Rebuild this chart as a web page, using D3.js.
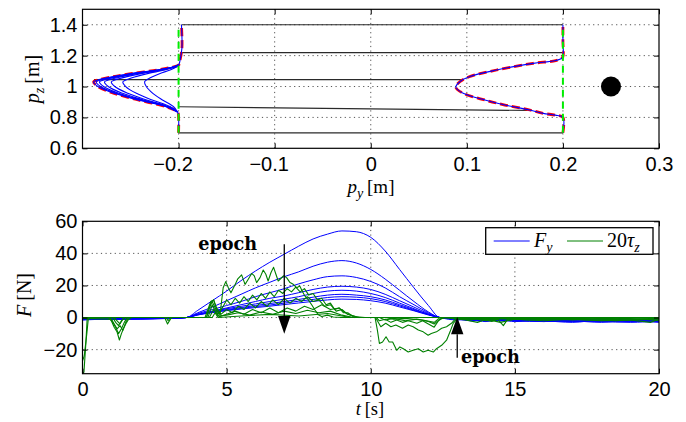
<!DOCTYPE html>
<html><head><meta charset="utf-8">
<script src="https://cdn.jsdelivr.net/npm/d3@7"></script>
<style>body{margin:0;background:#fff}svg{display:block}</style>
</head><body>
<svg id="c" width="686" height="422"></svg>
<script>
// ---------- tick values ----------
const pyTicks = [-0.2, -0.1, 0, 0.1, 0.2, 0.3];
const pzTicks = [0.6, 0.8, 1, 1.2, 1.4];
const tTicks = [0, 5, 10, 15, 20];
const fTicks = [-20, 0, 20, 40, 60];

// ---------- top plot data (py, pz) ----------
const bulgeZ = [0.835, 0.869, 0.913, 0.956, 1.0, 1.03, 1.042, 1.064, 1.085, 1.107, 1.128, 1.139];
const leftOuterPy = [-0.201, -0.213, -0.242, -0.267, -0.284, -0.2885, -0.284, -0.268, -0.248, -0.222, -0.205, -0.200];
const leftInnerPy = [
  [-0.201, -0.2126, -0.2407, -0.2649, -0.2813, -0.2857, -0.2813, -0.2658, -0.2465, -0.2213, -0.2048, -0.2],
  [-0.201, -0.2121, -0.239, -0.2623, -0.2781, -0.2823, -0.2781, -0.2632, -0.2446, -0.2205, -0.2047, -0.2],
  [-0.201, -0.2113, -0.2366, -0.2584, -0.2732, -0.2771, -0.2732, -0.2592, -0.2418, -0.2192, -0.2044, -0.2],
  [-0.201, -0.2103, -0.2332, -0.2529, -0.2664, -0.270, -0.2664, -0.2537, -0.2379, -0.2174, -0.204, -0.2],
  [-0.201, -0.2085, -0.2275, -0.2439, -0.255, -0.258, -0.255, -0.2445, -0.2314, -0.2144, -0.2033, -0.2],
  [-0.201, -0.2052, -0.2168, -0.2268, -0.2336, -0.2354, -0.2336, -0.2272, -0.2192, -0.2088, -0.202, -0.2]
];
const leftLowerStem = [[-0.2, 0.70], [-0.2, 0.80]];
const leftUpperStem = [[-0.1985, 1.17], [-0.1965, 1.25], [-0.1965, 1.32], [-0.197, 1.40]];
const rightPz = [0.70, 0.80, 0.815, 0.826, 0.848, 0.88, 0.9125, 0.956, 0.995, 1.031, 1.063, 1.107, 1.150, 1.165, 1.18, 1.193, 1.30, 1.40];
const rightPy = [0.2, 0.2, 0.192, 0.1795, 0.1656, 0.1396, 0.1188, 0.0962, 0.0885, 0.0927, 0.1024, 0.131, 0.169, 0.19, 0.198, 0.2, 0.2, 0.2];
const blackLines = [
  [[-0.197, 1.40], [0.2, 1.40]],
  [[-0.198, 1.219], [0.2, 1.219]],
  [[-0.288, 1.045], [0.095, 1.045]],
  [[-0.2, 0.869], [0.163, 0.845]],
  [[-0.2, 0.70], [0.2, 0.70]]
];
const wallLines = [[[-0.2, 0.7], [-0.2, 1.4]], [[0.2, 0.7], [0.2, 1.4]]];
const target = [0.25, 1.0];

// ---------- bottom plot data ----------
const blueT = [0,1,2,3,3.6,4,4.5,5,5.5,6,6.5,7,7.5,8,8.5,9,9.5,10,10.5,11,11.5,12,12.4,13,13.5,14,14.5,15,16,17,18,19,20];
const fy1 = [-1,-0.8,-0.6,-0.4,0, 4.5,10.5,16.5,23,29,34.5,39.5,44.5,49,52,54,53.5,50,41.5,30,18.5,7.5, 0, -0.5,-1,-1.5,-1,-2,-2.5,-2,-2.5,-2,-2];
const fy2 = [-1.2,-0.9,-0.7,-0.5,0, 3,6.5,10.5,14.5,18.5,22,25.5,28.5,32,34.5,35.5,34,30,24,17,10,3.5, 0, -0.8,-1.5,-1,-2,-1.5,-2,-2.5,-1.5,-2,-2.5];
const fy3 = [-0.8,-1,-0.5,-0.6,0, 2.5,5,7.5,10,13,15.5,18,21,23.5,25.5,26,25,22.5,18.5,13,8,3, 0, -1,-0.5,-2,-1.5,-1,-1.5,-2,-3,-1.5,-2];
const fy4 = [-1.5,-1,-1,-0.5,0, 2,4,6,8,10,12,13.5,15.5,17.5,19,19.5,19,17.5,14.5,10.5,6.5,2.5, 0, -0.5,-2,-1,-1.5,-2.5,-1.5,-1,-2,-2.5,-1.5];
const fy5 = [-0.6,-0.7,-0.9,-0.3,0, 2,3.8,5.5,7,8.5,10,11.5,13,15,16.5,17,16.5,15,12.5,9,5.5,2, 0, -1.5,-1,-0.5,-2,-1.5,-2.5,-1.5,-1,-2,-3];
const fy6 = [-1,-1.2,-0.8,-0.6,0, 1.8,3.5,5,6.2,7.5,8.7,10,11.3,12.7,14,14.5,14,13,11,8,5,2, 0, -0.5,-1.5,-2.5,-1,-2,-1,-2.5,-2,-1,-1.5];
const fy7 = [-1.4,-0.6,-0.7,-0.4,0, 1.7,3.3,4.6,5.7,6.8,7.8,9,10.2,11.3,12.5,13,12.7,11.8,10,7.3,4.5,1.8, 0, -1,-2,-1.5,-0.5,-1.5,-2,-3,-1.5,-2,-1];
const fy8 = [-0.9,-0.9,-0.6,-0.5,0, 1.6,3.1,4.3,5.3,6.2,7.1,8.1,9.1,10.1,11,11.5,11.3,10.5,9,6.6,4.2,1.6, 0, -0.8,-1.2,-2,-1.5,-1,-2,-1.5,-2.5,-3,-2];

const tau1 = [[0,-35],[0.05,-34],[0.12,-15],[0.16,-1],[0.3,0],[0.9,0],[1.0,-2],[1.1,-6],[1.2,-9],[1.28,-14],[1.35,-10],[1.42,-7],[1.5,-4],[1.6,-1],[1.7,0],[2.85,0],[2.95,-4],[3.05,-1],[3.1,0],[4.25,0],[4.35,5],[4.45,10],[4.55,11],[4.65,5],[4.77,1.7],[4.88,18.6],[4.97,22.4],[5.06,18.6],[5.15,15.4],[5.27,19.6],[5.38,23.9],[5.52,26.6],[5.64,20.7],[5.75,23.9],[5.87,27.5],[5.96,26],[6.04,21.8],[6.16,24.9],[6.27,29.6],[6.36,27],[6.44,22.8],[6.54,28.1],[6.63,31.3],[6.71,27],[6.79,22.8],[6.89,24.5],[6.97,26],[7.08,24.9],[7.2,21.8],[7.31,20.7],[7.43,18.6],[7.54,19.6],[7.62,16.5],[7.72,13.3],[7.83,11.2],[7.95,8],[8.06,4.9],[8.18,1.7],[8.3,0.6],[8.5,1.5],[8.7,0.3],[9,0],[10.15,0],[10.23,-7.8],[10.3,-16.2],[10.41,-15.2],[10.53,-12],[10.64,-15.2],[10.76,-15.2],[10.9,-20.4],[11.01,-18.3],[11.13,-19.4],[11.3,-21.5],[11.47,-20.4],[11.65,-19.4],[11.82,-21.5],[11.99,-20.4],[12.17,-21.5],[12.28,-19.4],[12.46,-17.3],[12.63,-14.1],[12.75,-8.9],[12.86,-3.6],[13.03,0],[13.3,-1],[13.6,-0.5],[14,-2],[14.4,-1],[14.6,-5],[14.75,-1],[15,0],[16,-1],[17,-0.5],[18,-1],[19,-1.5],[19.7,-3],[20,-1]];
const tau2 = [[0,-27],[0.06,-24],[0.15,-10],[0.2,-1],[0.3,0],[0.95,0],[1.05,-3],[1.15,-6],[1.25,-10],[1.35,-7],[1.45,-3],[1.55,0],[2.9,0],[2.97,-2],[3.05,0],[4.3,0],[4.4,6],[4.5,10],[4.6,6],[4.7,2],[4.85,6],[5.0,11],[5.15,8],[5.3,12],[5.45,9],[5.6,13],[5.75,10],[5.9,14],[6.05,11],[6.2,15],[6.35,12],[6.5,16],[6.65,13],[6.8,17],[6.95,15],[7.1,18],[7.25,16],[7.4,19],[7.55,16],[7.7,18],[7.85,14],[8.0,15],[8.15,11],[8.3,12],[8.45,8],[8.6,9],[8.75,5],[8.9,6],[9.05,3],[9.2,3],[9.4,0.5],[9.6,0],[10.15,0],[10.2,-1],[10.35,-5.7],[10.52,-3.6],[10.7,-5.7],[10.87,-4.7],[11.1,-6.7],[11.3,-4.7],[11.47,-5.7],[11.65,-7.8],[11.82,-8.9],[11.99,-11],[12.1,-10],[12.28,-8.9],[12.46,-6.7],[12.63,-5.7],[12.8,-3.6],[12.98,0],[13.4,-1.5],[13.8,-0.5],[14.2,-2.5],[14.5,-0.5],[15.5,-1.5],[16.5,-0.5],[17.5,-1.5],[18.5,-2],[19.5,-1],[20,-2]];
const tau3 = [[0,-0.5],[1.0,-1],[1.1,-4],[1.2,-7],[1.3,-5],[1.4,-8],[1.5,-3],[1.6,0],[4.3,0],[4.45,9],[4.55,11],[4.65,6],[4.8,2],[5.0,5],[5.2,3],[5.4,7],[5.6,5],[5.8,9],[6.0,6],[6.2,10],[6.4,7],[6.6,11],[6.8,8],[7.0,12],[7.2,9],[7.4,12],[7.6,10],[7.8,13],[8.0,10],[8.2,11],[8.4,7],[8.6,8],[8.8,4],[9.0,5],[9.2,2],[9.4,1],[9.6,0],[10.2,0],[10.3,-2],[10.5,-1],[10.7,-3],[10.9,-1.5],[11.1,-3],[11.3,-2],[11.6,-3.5],[11.8,-2],[12.0,-4],[12.2,-6],[12.35,-2],[12.5,0],[13.3,-1.5],[13.7,-3],[14.0,-1],[14.5,-3],[15,-1],[16,-2],[17,-1],[18,-2],[19,-1.5],[20,-1]];
const tau4 = [[0,0],[1.05,0],[1.15,-3],[1.25,-5],[1.35,-2],[1.45,0],[4.35,0],[4.5,8],[4.6,4],[4.75,0.5],[5.0,2],[5.3,4],[5.6,2],[5.9,5],[6.2,3],[6.5,6],[6.8,3],[7.1,6],[7.4,4],[7.7,7],[8.0,5],[8.3,8],[8.6,5],[8.9,6],[9.2,2],[9.5,0.5],[9.8,0],[10.3,0],[10.5,-1.5],[10.8,-0.5],[11.2,-2],[11.6,-1],[12.0,-2.5],[12.2,-4],[12.4,-1],[12.6,0],[13.5,-1],[14,-0.5],[15,-1],[16,-0.5],[17,-1.5],[18,-0.5],[19,-1],[20,-0.5]];
const tau5 = [[0,0],[1.1,0],[1.2,-2],[1.3,-4],[1.4,-1],[1.5,0],[4.4,0],[4.55,5],[4.7,1],[5.0,1.5],[5.4,3],[5.8,1.5],[6.2,3.5],[6.6,2],[7.0,4],[7.4,2.5],[7.8,4.5],[8.2,3],[8.6,4],[9.0,1.5],[9.4,0],[10.5,0],[10.8,-1],[11.2,-0.5],[11.8,-1.5],[12.2,-3],[12.4,0],[13,0],[14,-1],[15,-0.5],[16,-1],[17,-0.5],[18,-1],[19,-0.5],[20,0]];
const tau6 = [[0,0],[4.5,0],[4.6,3],[4.7,0],[5.5,1],[6.5,2],[7.5,1],[8.5,2.5],[9.3,0],[20,0]];

const seriesLabels = ["F_y", "20τ_z"];
// annotation anchors in data coordinates (t, F)
const arrowDown = {t: 7.0, tail: 45.7, base: 1.0, tip: -10.1};
const arrowUp = {t: 13.0, tail: -25.0, base: -10.4, tip: 0.3};
const epochLabels = [{t: 4.015, f: 41.9}, {t: 13.13, f: -28.1}];

// ---------- drawing ----------
const svg = d3.select("#c");
svg.append("rect").attr("width", 686).attr("height", 422).attr("fill", "#fff");

const xT = d3.scaleLinear().domain([-0.3, 0.3]).range([82.5, 659]);
const yT = d3.scaleLinear().domain([0.6, 1.5]).range([148.3, 9.3]);
const xB = d3.scaleLinear().domain([0, 20]).range([82.5, 659]);
const yB = d3.scaleLinear().domain([-35, 60]).range([373.7, 221.3]);

const fmt = d3.format("~g");
const TICKFONT = 20;

function frame(x, y, xt, yt) {
  const g = svg.append("g");
  const [x0, x1] = x.range(), [y0, y1] = y.range();
  const dot = {stroke: "#555", w: 1, dash: "1.2,3.4"};
  xt.forEach(v => { const px = x(v); if (px > x0 + 1 && px < x1 - 1)
    g.append("line").attr("x1", px).attr("x2", px).attr("y1", y0).attr("y2", y1)
     .attr("stroke", dot.stroke).attr("stroke-width", dot.w).attr("stroke-dasharray", dot.dash); });
  yt.forEach(v => { const py = y(v); if (py < y0 - 1 && py > y1 + 1)
    g.append("line").attr("x1", x0).attr("x2", x1).attr("y1", py).attr("y2", py)
     .attr("stroke", dot.stroke).attr("stroke-width", dot.w).attr("stroke-dasharray", dot.dash); });
  return g;
}
function axes(x, y, xt, yt, pad) {
  const [x0, x1] = x.range(), [y0, y1] = y.range();
  const mk = (gen, tr) => {
    const a = svg.append("g").attr("transform", tr).call(gen)
      .attr("font-family", "'Liberation Sans', Arial, sans-serif").attr("font-size", TICKFONT).attr("color", "#000");
    a.select(".domain").remove();
    return a;
  };
  const bx = mk(d3.axisBottom(x).tickValues(xt).tickSizeInner(-5).tickSizeOuter(0).tickPadding(pad).tickFormat(fmt), `translate(0,${y0})`);
  // negative labels: digits centred on the tick, minus hangs left (as in the reference)
  bx.selectAll(".tick text").attr("dx", d => d < 0 ? -6 : 0);
  mk(d3.axisTop(x).tickValues(xt).tickSizeInner(-5).tickSizeOuter(0).tickFormat(""), `translate(0,${y1})`);
  mk(d3.axisLeft(y).tickValues(yt).tickSizeInner(-5).tickSizeOuter(0).tickPadding(5).tickFormat(fmt), `translate(${x0},0)`);
  mk(d3.axisRight(y).tickValues(yt).tickSizeInner(-5).tickSizeOuter(0).tickFormat(""), `translate(${x1},0)`);
  svg.append("rect").attr("x", x0).attr("y", y1).attr("width", x1 - x0).attr("height", y0 - y1)
    .attr("fill", "none").attr("stroke", "#000").attr("stroke-width", 1.2);
}

// ===== TOP PLOT =====
frame(xT, yT, pyTicks, pzTicks);
const gT = svg.append("g");
const lineT = d3.line().x(d => xT(d[0])).y(d => yT(d[1]));
const smoothT = d3.line().x(d => xT(d[0])).y(d => yT(d[1])).curve(d3.curveCatmullRom.alpha(0.5));

blackLines.forEach(l => gT.append("path").attr("d", lineT(l)).attr("fill", "none")
  .attr("stroke", "#2a2a2a").attr("stroke-width", 1.2));

const bulge = arr => bulgeZ.map((z, i) => [arr[i], z]);
const leftFull = leftLowerStem.concat(bulge(leftOuterPy), leftUpperStem);
const rightFull = rightPz.map((z, i) => [rightPy[i], z]);

[leftFull, rightFull].forEach(p => gT.append("path").attr("d", smoothT(p)).attr("fill", "none")
  .attr("stroke", "#ff0000").attr("stroke-width", 2.8).attr("stroke-dasharray", "8,4"));
[leftFull, rightFull].concat(leftInnerPy.map(bulge)).forEach(p => gT.append("path").attr("d", smoothT(p))
  .attr("fill", "none").attr("stroke", "#0000ff").attr("stroke-width", 1.1));
wallLines.forEach(l => gT.append("path").attr("d", lineT(l)).attr("fill", "none")
  .attr("stroke", "#00ee00").attr("stroke-width", 2).attr("stroke-dasharray", "7,5"));
gT.append("circle").attr("cx", xT(target[0])).attr("cy", yT(target[1])).attr("r", 10).attr("fill", "#000");
axes(xT, yT, pyTicks, pzTicks, 9);

// axis labels
const serif = "'Liberation Serif', 'Times New Roman', serif";
function mathLabel(x, y, rot, parts, size) {
  const t = svg.append("text").attr("transform", `translate(${x},${y}) rotate(${rot})`)
    .attr("text-anchor", "middle").attr("font-family", serif).attr("font-size", size || 20).attr("fill", "#000");
  parts.forEach(p => {
    const s = t.append("tspan").text(p.s);
    if (p.i) s.attr("font-style", "italic");
    if (p.sub) s.attr("font-size", 14).attr("dy", 5);
    if (p.up) s.attr("dy", -5);
  });
  return t;
}
mathLabel(39, 79, -90, [{s: "p", i: 1}, {s: "z", i: 1, sub: 1}, {s: "\u2009[m]", up: 1}]);
mathLabel(371, 193, 0, [{s: "p", i: 1}, {s: "y", i: 1, sub: 1}, {s: "\u2009[m]", up: 1}], 19);

// ===== BOTTOM PLOT =====
frame(xB, yB, tTicks, fTicks);
svg.append("clipPath").attr("id", "cb").append("rect")
  .attr("x", 82.5).attr("y", 221.3).attr("width", 659 - 82.5).attr("height", 373.7 - 221.3);
const gB = svg.append("g").attr("clip-path", "url(#cb)");
const blueLine = d3.line().x((d, i) => xB(blueT[i])).y(d => yB(d)).curve(d3.curveMonotoneX);
[fy1, fy2, fy3, fy4, fy5, fy6, fy7, fy8].forEach(s => gB.append("path").attr("d", blueLine(s))
  .attr("fill", "none").attr("stroke", "#0000ff").attr("stroke-width", 1));
const greenLine = d3.line().x(d => xB(d[0])).y(d => yB(d[1]));
[tau6, tau5, tau4, tau3, tau2, tau1].forEach(s => gB.append("path").attr("d", greenLine(s))
  .attr("fill", "none").attr("stroke", "#008000").attr("stroke-width", 1.1).attr("stroke-linejoin", "round"));

// arrows
function arrow(a) {
  const x = xB(a.t);
  gB.append("line").attr("x1", x).attr("x2", x).attr("y1", yB(a.tail)).attr("y2", yB(a.base))
    .attr("stroke", "#000").attr("stroke-width", 1.3);
  gB.append("path").attr("d", `M${x - 6.2},${yB(a.base)}L${x + 6.2},${yB(a.base)}L${x},${yB(a.tip)}Z`).attr("fill", "#000");
}
arrow(arrowDown); arrow(arrowUp);
epochLabels.forEach(e => svg.append("text").attr("x", xB(e.t)).attr("y", yB(e.f))
  .attr("font-family", "'DejaVu Serif', serif").attr("font-weight", "bold").attr("font-size", 18)
  .attr("textLength", 59).attr("lengthAdjust", "spacingAndGlyphs").text("epoch"));

axes(xB, yB, tTicks, fTicks, 8);
mathLabel(31, 295, -90, [{s: "F", i: 1}, {s: "\u2009[N]"}]);
mathLabel(370, 415, 0, [{s: "t", i: 1}, {s: "\u2009[s]"}], 18.5);

// legend
const lg = svg.append("g");
lg.append("rect").attr("x", 485.7).attr("y", 227.7).attr("width", 167.3).attr("height", 26.6)
  .attr("fill", "#fff").attr("stroke", "#000").attr("stroke-width", 1.3);
lg.append("line").attr("x1", 493.7).attr("x2", 529.7).attr("y1", 241).attr("y2", 241).attr("stroke", "#0000ff").attr("stroke-width", 1);
lg.append("line").attr("x1", 567).attr("x2", 603).attr("y1", 241).attr("y2", 241).attr("stroke", "#008000").attr("stroke-width", 1);
const lt1 = lg.append("text").attr("x", 534).attr("y", 247).attr("font-family", serif).attr("font-size", 20);
lt1.append("tspan").attr("font-style", "italic").text(seriesLabels[0].split("_")[0]);
lt1.append("tspan").attr("font-style", "italic").attr("font-size", 14).attr("dy", 5).text(seriesLabels[0].split("_")[1]);
const lt2 = lg.append("text").attr("x", 607).attr("y", 247).attr("font-family", serif).attr("font-size", 20);
const s2 = seriesLabels[1].split("_")[0];
lt2.append("tspan").text(s2.slice(0, 2));
lt2.append("tspan").attr("font-style", "italic").text(s2.slice(2));
lt2.append("tspan").attr("font-style", "italic").attr("font-size", 14).attr("dy", 5).text(seriesLabels[1].split("_")[1]);
</script>
</body></html>
